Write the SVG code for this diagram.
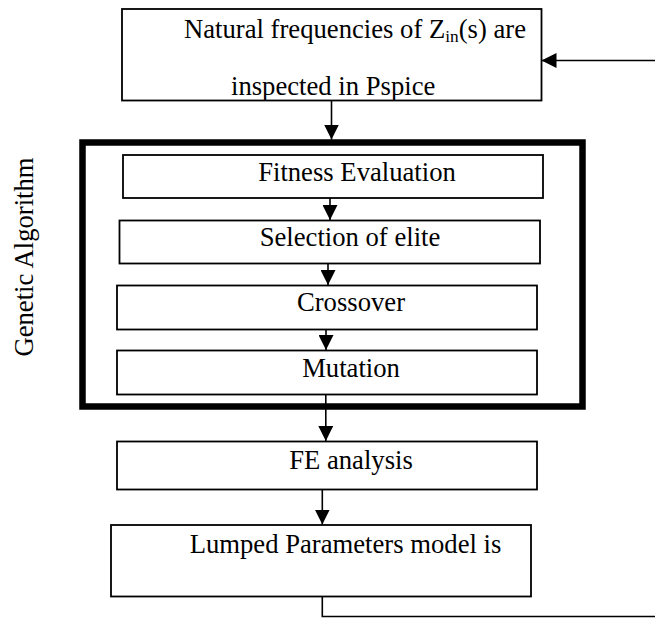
<svg xmlns="http://www.w3.org/2000/svg" width="655" height="618" viewBox="0 0 655 618">
<style>
.box{fill:#fff;stroke:#000;stroke-width:1.8}
.t{font-family:"Liberation Serif","Times New Roman",serif;font-size:26.67px;fill:#000}
.c{text-anchor:middle}
.ln{fill:none;stroke:#000;stroke-width:1.6}
</style>
<defs>
<marker id="ah" markerUnits="userSpaceOnUse" markerWidth="15" markerHeight="15" refX="15" refY="7.5" orient="auto" viewBox="0 0 15 15">
<path d="M0,0 L15,7.5 L0,15 z" fill="#000"/>
</marker>
</defs>
<rect width="655" height="618" fill="#fff"/>
<g id="ga-frame">
<rect x="82.5" y="142.5" width="500" height="264" fill="none" stroke="#000" stroke-width="6.5"/>
<text class="t c" transform="translate(33,257) rotate(-90)">Genetic Algorithm</text>
</g>
<g id="pspice">
<rect class="box" x="122" y="9" width="419.5" height="91.5"/>
<text class="t" x="184" y="38">Natural frequencies of Z<tspan font-size="17.3" dy="4">in</tspan><tspan dy="-4">(s) are</tspan></text>
<text class="t" x="231" y="95">inspected in Pspice</text>
</g>
<g id="fitness">
<rect class="box" x="123" y="155" width="420" height="43"/>
<text class="t c" x="357" y="181">Fitness Evaluation</text>
</g>
<g id="selection">
<rect class="box" x="119.5" y="220.5" width="420.5" height="43"/>
<text class="t c" x="350" y="246">Selection of elite</text>
</g>
<g id="crossover">
<rect class="box" x="117" y="285.5" width="420" height="44"/>
<text class="t c" x="351" y="311">Crossover</text>
</g>
<g id="mutation">
<rect class="box" x="117" y="350.5" width="420" height="44"/>
<text class="t c" x="351" y="377">Mutation</text>
</g>
<g id="fe">
<rect class="box" x="117" y="441.5" width="420" height="48"/>
<text class="t c" x="351" y="469">FE analysis</text>
</g>
<g id="lumped">
<rect class="box" x="111" y="525" width="420" height="71.5"/>
<text class="t c" x="345.5" y="553">Lumped Parameters model is</text>
</g>
<g id="connectors">
<line class="ln" x1="331.5" y1="100.5" x2="331.5" y2="139.5" marker-end="url(#ah)"/>
<line class="ln" x1="330" y1="198" x2="330" y2="220" marker-end="url(#ah)"/>
<line class="ln" x1="328" y1="263.5" x2="328" y2="285" marker-end="url(#ah)"/>
<line class="ln" x1="326" y1="329.5" x2="326" y2="350" marker-end="url(#ah)"/>
<line class="ln" x1="325.8" y1="394.5" x2="325.8" y2="441" marker-end="url(#ah)"/>
<line class="ln" x1="322.3" y1="489.5" x2="322.3" y2="524.5" marker-end="url(#ah)"/>
<polyline class="ln" points="322.3,596.5 322.3,616.5 655,616.5"/>
<line class="ln" x1="655" y1="60.5" x2="541.5" y2="60.5" marker-end="url(#ah)"/>
</g>
</svg>
